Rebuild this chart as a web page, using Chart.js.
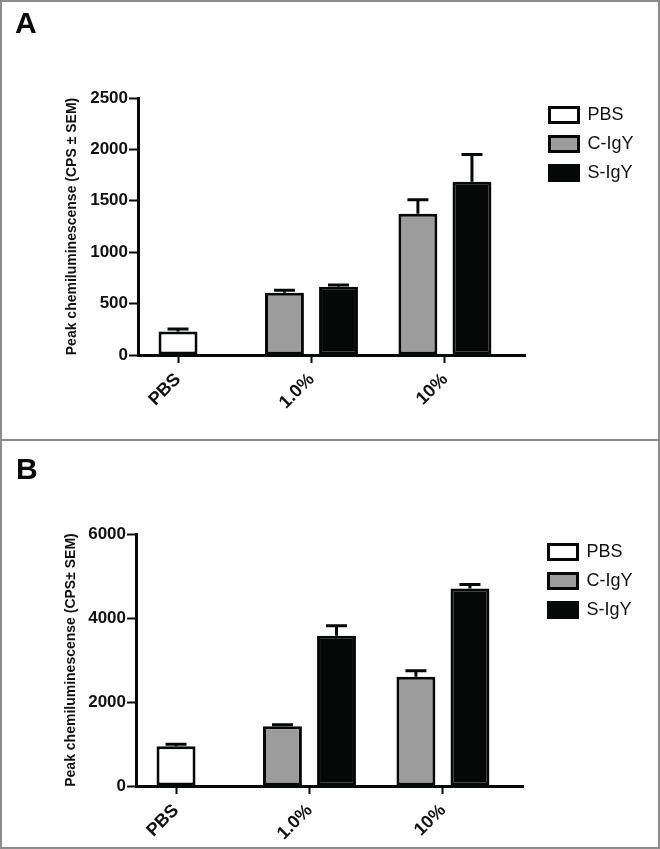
<!DOCTYPE html>
<html>
<head>
<meta charset="utf-8">
<script src="https://cdn.jsdelivr.net/npm/chart.js@4.4.1/dist/chart.umd.min.js"></script>
<style>
  body { margin: 0; background: #fff; }
  .panel { position: absolute; left: 0; width: 660px; box-sizing: border-box; border: 2px solid #8c8c8c; background: #fff; }
  #panelA { top: 0; height: 441px; }
  #panelB { top: 439px; height: 410px; }
  .panel canvas { position: absolute; left: 0; top: 0; }
  .letter { position: absolute; font: bold 30px 'Liberation Sans', Arial, sans-serif; line-height: 30px; color: #0a0a0a; }
</style>
</head>
<body>
<div class="panel" id="panelA">
  <canvas id="chartA" width="656" height="437"></canvas>
  <div class="letter" style="left:13px;top:6px">A</div>
</div>
<div class="panel" id="panelB">
  <canvas id="chartB" width="656" height="406"></canvas>
  <div class="letter" style="left:14px;top:13px">B</div>
</div>
<script>
const groupLabels = ['PBS', '1.0%', '10%'];
const seriesNames = ['PBS', 'C-IgY', 'S-IgY'];

// Panel A values (CPS) and SEM
const pbsA = [228, null, null];
const cIgyA = [null, 605, 1375];
const sIgyA = [null, 665, 1685];
const pbsSemA = [25, null, null];
const cIgySemA = [null, 25, 135];
const sIgySemA = [null, 15, 265];
const yTicksA = [0, 500, 1000, 1500, 2000, 2500];

// Panel B values (CPS) and SEM
const pbsB = [945, null, null];
const cIgyB = [null, 1420, 2600];
const sIgyB = [null, 3580, 4705];
const pbsSemB = [50, null, null];
const cIgySemB = [null, 40, 145];
const sIgySemB = [null, 235, 95];
const yTicksB = [0, 2000, 4000, 6000];

const fills = ['#ffffff', '#9c9c9c', '#060808'];
const ink = '#070909';
const fontFamily = "'Liberation Sans', Arial, sans-serif";

// draws the upward SEM whiskers on top of each bar
const errorBars = {
    id: 'errorBars',
    afterDatasetsDraw(chart) {
        const ctx = chart.ctx;
        const y = chart.scales.y;
        ctx.save();
        ctx.strokeStyle = ink;
        ctx.lineWidth = 3;
        chart.data.datasets.forEach((ds, di) => {
            const meta = chart.getDatasetMeta(di);
            meta.data.forEach((bar, i) => {
                const v = ds.data[i].y;
                const e = ds.sem[i];
                if (v == null || e == null) return;
                const y0 = y.getPixelForValue(v);
                const y1 = y.getPixelForValue(v + e);
                ctx.beginPath();
                ctx.moveTo(bar.x, y0);
                ctx.lineTo(bar.x, y1);
                ctx.moveTo(bar.x - 10.5, y1);
                ctx.lineTo(bar.x + 10.5, y1);
                ctx.stroke();
            });
        });
        ctx.restore();
    }
};

// moves the legend from inside the plot to the right of it
const legendShift = {
    id: 'legendShift',
    afterLayout(chart, args, opts) {
        const lg = chart.legend;
        const area = chart.chartArea;
        const w = lg.width, h = lg.height;
        lg.left = area.right + opts.dx;
        lg.right = lg.left + w;
        lg.top = area.top + opts.dy;
        lg.bottom = lg.top + h;
    }
};

function buildChart(id, series, sems, yTicks, yTitle, box) {
    new Chart(document.getElementById(id), {
        type: 'bar',
        data: {
            datasets: series.map((vals, s) => ({
                label: seriesNames[s],
                data: vals.map((v, i) => ({ x: i, y: v })),
                sem: sems[s],
                backgroundColor: fills[s],
                borderColor: ink,
                borderWidth: 3,
                borderSkipped: false,
                skipNull: true,
                categoryPercentage: 0.81,
                barPercentage: 0.72,
                maxBarThickness: 39
            }))
        },
        options: {
            animation: false,
            responsive: false,
            devicePixelRatio: 1,
            layout: { padding: { top: box.top, right: box.right, left: 0, bottom: 0 } },
            scales: {
                x: {
                    type: 'linear',
                    min: -0.3,
                    max: 2.6,
                    offset: false,
                    afterBuildTicks: sc => { sc.ticks = groupLabels.map((_, i) => ({ value: i })); },
                    afterFit: sc => { sc.height = box.xHeight; },
                    ticks: {
                        callback: v => groupLabels[v],
                        autoSkip: false,
                        maxRotation: 45,
                        minRotation: 45,
                        padding: 6,
                        color: '#111',
                        font: { family: fontFamily, size: 18, weight: 'bold' }
                    },
                    grid: { offset: false, drawOnChartArea: false, tickLength: 8, tickWidth: 2, tickColor: ink },
                    border: { color: ink, width: 3 }
                },
                y: {
                    min: 0,
                    max: yTicks[yTicks.length - 1],
                    afterBuildTicks: sc => { sc.ticks = yTicks.map(v => ({ value: v })); },
                    afterFit: sc => { sc.width = box.left; },
                    ticks: {
                        callback: v => String(v),
                        padding: 1,
                        color: '#111',
                        font: { family: fontFamily, size: 17, weight: 'bold' }
                    },
                    grid: { drawOnChartArea: false, tickLength: 9, tickWidth: 2, tickColor: ink },
                    border: { color: ink, width: 3 },
                    title: {
                        display: true,
                        text: yTitle,
                        color: '#111',
                        padding: { top: box.titleGap, bottom: 0 },
                        font: { family: fontFamily, size: 14, weight: 'bold' }
                    }
                }
            },
            plugins: {
                legend: {
                    position: 'chartArea',
                    align: 'start',
                    labels: {
                        boxWidth: 29,
                        boxHeight: 15,
                        padding: 11,
                        color: '#111',
                        font: { family: fontFamily, size: 18 }
                    }
                },
                tooltip: { enabled: false },
                legendShift: { dx: box.dx, dy: box.dy }
            }
        },
        plugins: [errorBars, legendShift]
    });
}

buildChart('chartA', [pbsA, cIgyA, sIgyA], [pbsSemA, cIgySemA, sIgySemA], yTicksA,
    'Peak chemiluminescense (CPS \u00b1 SEM)',
    { left: 136, top: 96, right: 133, xHeight: 84, titleGap: 61.6, dx: 13.5, dy: -3 });

buildChart('chartB', [pbsB, cIgyB, sIgyB], [pbsSemB, cIgySemB, sIgySemB], yTicksB,
    'Peak chemiluminescense (CPS\u00b1 SEM)',
    { left: 134, top: 93, right: 135, xHeight: 61, titleGap: 60.6, dx: 14.5, dy: -2 });
</script>
</body>
</html>
